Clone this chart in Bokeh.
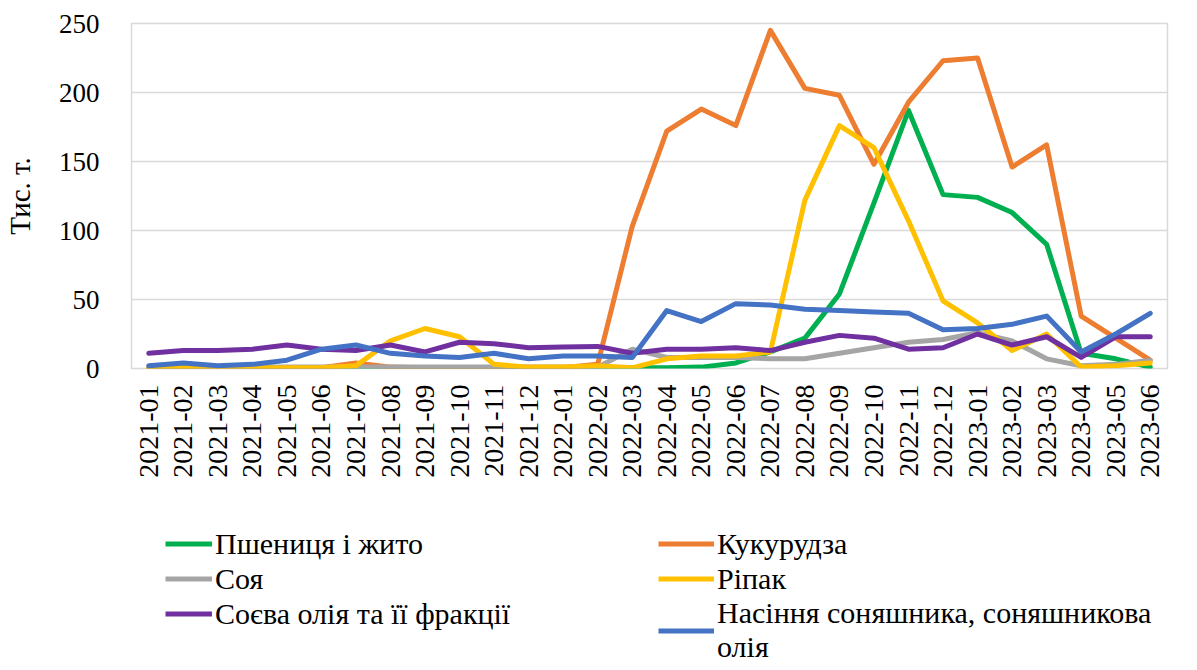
import math
import numpy as np
from bokeh.plotting import figure
from bokeh.layouts import column, row
from bokeh.models import FactorRange, Range1d, Legend, LegendItem, FixedTicker
from bokeh.embed import file_html
from bokeh.resources import INLINE

months = ["2021-01", "2021-02", "2021-03", "2021-04", "2021-05", "2021-06",
          "2021-07", "2021-08", "2021-09", "2021-10", "2021-11", "2021-12",
          "2022-01", "2022-02", "2022-03", "2022-04", "2022-05", "2022-06",
          "2022-07", "2022-08", "2022-09", "2022-10", "2022-11", "2022-12",
          "2023-01", "2023-02", "2023-03", "2023-04", "2023-05", "2023-06"]

wheat = [0.5, 0.5, 0.5, 0.5, 0.5, 0.5, 0.5, 0.5, 0.5, 0.5, 0.5, 0.5,
         0.5, 0.5, 0.5, 0.5, 1, 4, 12, 22, 54, 120, 187, 126,
         124, 113, 90, 11, 7, 1]
corn = [0.5, 0.5, 0.5, 0.5, 0.5, 0.5, 4, 1, 0.5, 0.5, 0.5, 0.5,
        0.5, 3, 103, 172, 188, 176, 245, 203, 198, 148, 193, 223,
        225, 146, 162, 38, 22, 6]
soy = [1, 1, 1, 1, 1, 1, 1, 1, 1, 1, 1, 1,
       1, 1, 14, 8, 8, 8, 7, 7, 11, 15, 19, 21,
       26, 20, 7, 2, 3, 6]
rapeseed = [0.5, 0.5, 0.5, 0.5, 0.5, 0.5, 2, 20, 29, 23, 3, 1,
            1, 2, 0.5, 7, 9, 9, 12, 122, 176, 160, 107, 49,
            33, 13, 25, 1, 2, 4]
soy_oil = [11, 13, 13, 14, 17, 14, 13, 17, 12, 19, 18, 15,
           15.5, 16, 11, 14, 14, 15, 13, 19, 24, 22, 14, 15,
           25, 17, 23, 8, 23, 23]
sunflower = [2, 4, 2, 3, 6, 14, 17, 11, 9, 8, 11, 7,
             9, 9, 8, 42, 34, 47, 46, 43, 42, 41, 40, 28,
             29, 32, 38, 12, 25, 40]

series_labels = ["Пшениця і жито", "Кукурудза", "Соя", "Ріпак",
                 "Соєва олія та її фракції",
                 "Насіння соняшника, соняшникова\nолія"]
series_values = [wheat, corn, soy, rapeseed, soy_oil, sunflower]
series_colors = ["#00B050", "#ED7D31", "#A5A5A5", "#FFC000", "#7030A0", "#4472C4"]
y_ticks = [0, 50, 100, 150, 200, 250]

FONT = "Liberation Serif"
LW = 5

p = figure(width=1181, height=493, x_range=FactorRange(*months, range_padding=0),
           y_range=Range1d(0, 250), output_backend="svg", toolbar_location=None,
           min_border_left=119, min_border_right=14, min_border_top=23,
           min_border_bottom=125)
p.background_fill_color = "white"
p.border_fill_color = "white"
p.outline_line_color = "#d9d9d9"
p.outline_line_width = 1.5

p.xgrid.grid_line_color = None
p.ygrid.grid_line_color = "#d9d9d9"
p.ygrid.grid_line_width = 1.5

p.yaxis.ticker = FixedTicker(ticks=y_ticks)
for ax in (p.xaxis[0], p.yaxis[0]):
    ax.axis_line_color = None
    ax.major_tick_line_color = None
    ax.minor_tick_line_color = None
    ax.major_label_text_font = FONT
    ax.major_label_text_color = "black"

p.yaxis.major_label_text_font_size = "27px"
p.xaxis.major_label_text_font_size = "28px"
p.xaxis.major_label_orientation = math.pi / 2
p.xaxis.major_label_standoff = 10
p.yaxis.major_label_standoff = 26
p.yaxis.axis_label = "Тис. т."
p.yaxis.axis_label_text_font = FONT
p.yaxis.axis_label_text_font_size = "29px"
p.yaxis.axis_label_text_font_style = "normal"
p.yaxis.axis_label_text_color = "black"
p.yaxis.axis_label_standoff = 20

for vals, col in zip(series_values, series_colors):
    p.line(x=months, y=vals, line_color=col, line_width=LW,
           line_join="round", line_cap="round")


def legend_fig(width, left, idx, glyph_w):
    f = figure(width=width, height=169, x_range=Range1d(0, 1), y_range=Range1d(0, 1),
               output_backend="svg", toolbar_location=None,
               min_border_left=left, min_border_right=0, min_border_top=33,
               min_border_bottom=0)
    f.axis.visible = False
    f.grid.grid_line_color = None
    f.outline_line_color = None
    f.background_fill_color = "white"
    f.border_fill_color = "white"
    items = []
    for i in idx:
        # legend key proxy only (no data point is drawn)
        r = f.line(x=np.array([np.nan]), y=np.array([np.nan]),
                   line_color=series_colors[i], line_width=LW)
        items.append(LegendItem(label=series_labels[i], renderers=[r]))
    lg = Legend(items=items, location="top_left", orientation="vertical",
                label_text_font=FONT, label_text_font_size="30px",
                label_text_color="black", glyph_width=glyph_w, glyph_height=35,
                label_height=35, label_standoff=3, spacing=0, padding=0, margin=0,
                border_line_color=None, background_fill_alpha=0)
    f.add_layout(lg, "center")
    return f


legA = legend_fig(650, 165, [0, 2, 4], 47)
legB = legend_fig(531, 8, [1, 3, 5], 56)

layout = column(p, row(legA, legB, spacing=0), spacing=0)
open("out.html", "w").write(file_html(layout, INLINE))
